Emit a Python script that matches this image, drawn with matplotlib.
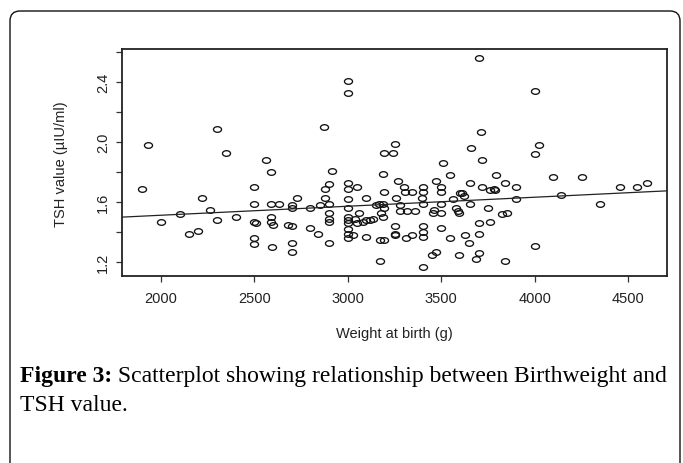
import matplotlib
matplotlib.use("Agg")
import matplotlib.pyplot as plt
import numpy as np
from matplotlib.path import Path
from matplotlib.transforms import Affine2D, IdentityTransform
from matplotlib.patches import FancyBboxPatch

# ---- data ----
weight = [1900, 1930, 2000, 2100, 2150, 2200, 2220, 2260, 2300, 2300, 2350, 2400,
          2500, 2500, 2500, 2510, 2500, 2500,
          2560, 2590, 2590, 2630, 2590, 2590, 2600, 2595,
          2680, 2700, 2700, 2700, 2730, 2700, 2700,
          2795, 2795, 2840, 2850, 2870, 2880, 2900, 2915, 2880, 2900, 2900, 2900, 2900, 2900,
          3000, 3000, 3000, 3000, 3000, 3000, 3000, 3000, 3000, 3000, 3000, 3000,
          3050, 3040, 3050, 3030, 3100, 3100, 3135, 3100, 3060, 3080, 3120, 3150,
          3170, 3170, 3195, 3190, 3195, 3240, 3250, 3195, 3165, 3190, 3195, 3180, 3190,
          3250, 3250, 3255, 3270, 3260, 3280, 3280, 3300, 3305, 3315, 3310, 3345, 3345, 3360,
          3400, 3400, 3395, 3400, 3400, 3400, 3400, 3400,
          3450, 3470, 3460, 3455, 3470,
          3500, 3500, 3500, 3500, 3500, 3510, 3545, 3545, 3565,
          3580, 3590, 3595, 3600, 3610, 3620, 3595, 3625, 3650, 3655, 3655, 3660,
          3700, 3715, 3720, 3720, 3700, 3700, 3700, 3685,
          3750, 3760, 3760, 3785, 3790, 3795, 3840, 3825, 3850, 3840, 3900, 3900,
          4000, 4025, 4000, 4000, 4100, 4140, 4255, 4350, 4455, 4550, 4600]
tsh = [1.69, 1.98, 1.47, 1.52, 1.39, 1.41, 1.63, 1.55, 2.09, 1.48, 1.93, 1.50,
       1.70, 1.59, 1.47, 1.46, 1.36, 1.32,
       1.88, 1.80, 1.59, 1.59, 1.50, 1.47, 1.45, 1.30,
       1.45, 1.44, 1.58, 1.56, 1.63, 1.33, 1.27,
       1.56, 1.43, 1.39, 1.58, 2.10, 1.69, 1.72, 1.81, 1.63, 1.59, 1.53, 1.49, 1.47, 1.33,
       2.41, 2.33, 1.73, 1.69, 1.62, 1.56, 1.50, 1.48, 1.46, 1.42, 1.39, 1.36,
       1.70, 1.49, 1.46, 1.38, 1.63, 1.48, 1.49, 1.37, 1.53, 1.47, 1.48, 1.58,
       1.21, 1.35, 1.35, 1.79, 1.93, 1.93, 1.99, 1.67, 1.59, 1.59, 1.56, 1.53, 1.50,
       1.44, 1.39, 1.38, 1.74, 1.63, 1.58, 1.54, 1.70, 1.67, 1.54, 1.36, 1.67, 1.38, 1.54,
       1.70, 1.67, 1.63, 1.59, 1.44, 1.40, 1.37, 1.17,
       1.25, 1.27, 1.55, 1.53, 1.74,
       1.70, 1.67, 1.59, 1.53, 1.43, 1.86, 1.78, 1.36, 1.62,
       1.56, 1.54, 1.53, 1.66, 1.66, 1.64, 1.25, 1.38, 1.33, 1.73, 1.59, 1.96,
       2.56, 2.07, 1.88, 1.70, 1.46, 1.39, 1.26, 1.22,
       1.56, 1.47, 1.68, 1.69, 1.68, 1.78, 1.73, 1.52, 1.53, 1.21, 1.70, 1.62,
       2.34, 1.98, 1.92, 1.31, 1.77, 1.65, 1.77, 1.59, 1.70, 1.70, 1.73]
fit_intercept = 1.392
fit_slope = 6.0e-5
x_ticks = [2000, 2500, 3000, 3500, 4000, 4500]
y_ticks = [1.2, 1.4, 1.6, 1.8, 2.0, 2.2, 2.4, 2.6]
y_labels = ["1.2", "", "1.6", "", "2.0", "", "2.4", ""]
x_title = "Weight at birth (g)"
y_title = "TSH value (\u00b5IU/ml)"
cap_bold = "Figure 3:"
cap_line1 = " Scatterplot showing relationship between Birthweight and"
cap_line2 = "TSH value."

W, H = 683, 464
fig = plt.figure(figsize=(W / 100, H / 100), dpi=100)
fig.patch.set_facecolor("white")

# rounded frame
frame = FancyBboxPatch((10, -40), 670, 452 + 40, boxstyle="round,pad=0,rounding_size=10",
                       transform=IdentityTransform(), fill=False, edgecolor="#111111",
                       linewidth=1.0, figure=fig)
fig.patches.append(frame)

left, right, top, bottom = 122, 667, 50, 277
ax = fig.add_axes([left / W, 1 - bottom / H, (right - left) / W, (bottom - top) / H])

ell = Path.unit_circle().transformed(Affine2D().scale(1.0, 0.7))
ax.plot(weight, tsh, linestyle="none", marker=ell, markersize=5.8,
        markerfacecolor="none", markeredgecolor="#111111", markeredgewidth=0.95)
ax.axline((0, fit_intercept), slope=fit_slope, color="#222222", linewidth=0.9)

ax.set_xlim(1791, 4709)
ax.set_ylim(1.107, 2.62)
ax.set_xticks(x_ticks)
ax.set_xticklabels([str(v) for v in x_ticks])
ax.set_yticks(y_ticks)
ax.set_yticklabels(y_labels, rotation=90, va="center")

for lab in ax.get_xticklabels() + ax.get_yticklabels():
    lab.set_fontfamily("Liberation Sans")
    lab.set_fontsize(10.5)
    lab.set_color("#222222")
ax.tick_params(axis="both", direction="out", length=4.5, width=0.9, color="#333333")
ax.tick_params(axis="x", pad=6)
ax.tick_params(axis="y", pad=4)
for s in ax.spines.values():
    s.set_linewidth(1.3)
    s.set_color("#222222")

fig.text(394 / W, 1 - 334 / H, x_title, ha="center", va="center",
         fontfamily="Liberation Sans", fontsize=10.5, color="#222222")
fig.text(61 / W, 1 - 164 / H, y_title, ha="center", va="center", rotation=90,
         fontfamily="Liberation Sans", fontsize=10.5, color="#222222")

# caption
cap_size = 15.5
t1 = fig.text(20 / W, 1 - 382 / H, cap_bold, ha="left", va="baseline",
              fontfamily="Liberation Serif", fontweight="bold", fontsize=cap_size, color="black")
fig.canvas.draw()
r = fig.canvas.get_renderer()
bb = t1.get_window_extent(r)
t2 = fig.text(bb.x1 / W, 1 - 382 / H, cap_line1, ha="left", va="baseline",
              fontfamily="Liberation Serif", fontsize=cap_size, color="black")
# fit caption width to reference (ends near x=668)
fig.canvas.draw()
bb2 = t2.get_window_extent(r)
scale = (668 - 20) / (bb2.x1 - 20)
cap_size *= scale
t1.set_fontsize(cap_size)
t2.set_fontsize(cap_size)
fig.canvas.draw()
bb = t1.get_window_extent(r)
t2.set_position((bb.x1 / W, 1 - 382 / H))
fig.text(20 / W, 1 - 411 / H, cap_line2, ha="left", va="baseline",
         fontfamily="Liberation Serif", fontsize=cap_size, color="black")

fig.savefig("out.png", dpi=100)
